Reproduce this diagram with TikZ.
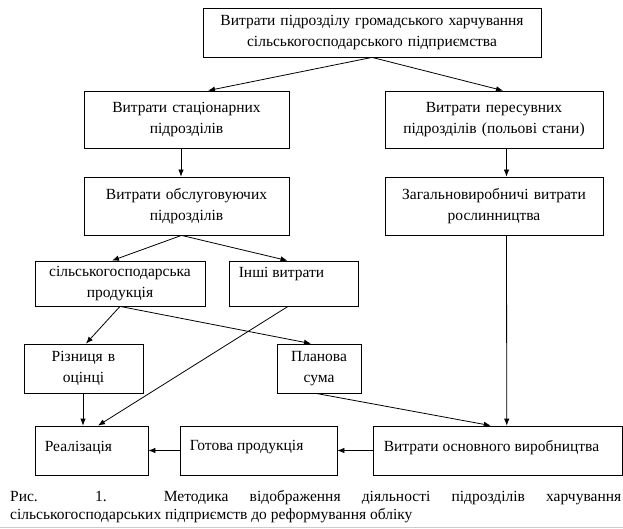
\documentclass[tikz,border=0pt]{standalone}
\usepackage{fontspec}
\setmainfont{Liberation Serif}
\usetikzlibrary{arrows.meta,calc}
\tikzset{
  box/.style={draw, line width=0.8pt, inner sep=0pt, align=center},
  txt/.style={inner sep=0pt, align=left, anchor=west},
  arr/.style={line width=0.8pt, -{Latex[length=7pt,width=5.5pt]}},
}
\begin{document}
\begin{tikzpicture}[x=1pt,y=-1pt,font=\fontsize{15.5}{21}\selectfont]
\useasboundingbox (0,0) rectangle (623,529);
% boxes
\node[box, minimum width=338, minimum height=49, text width=330] (top) at (372,32.5)
  {Витрати підрозділу громадського харчування\\сільськогосподарського підприємства};
\node[box, minimum width=205, minimum height=57, text width=200] (stat) at (186.5,119.5)
  {Витрати стаціонарних\\підрозділів};
\node[box, minimum width=218, minimum height=57, text width=214] (peres) at (494,119.5)
  {Витрати пересувних\\підрозділів (польові стани)};
\node[box, minimum width=205, minimum height=58, text width=200] (obsl) at (186.5,206)
  {Витрати обслуговуючих\\підрозділів};
\node[box, minimum width=218, minimum height=58, text width=214] (zag) at (494,206)
  {Загальновиробничі витрати\\рослинництва};
\node[box, minimum width=170, minimum height=45, text width=166] (sg) at (120,283.5)
  {сільськогосподарська\\продукція};
\node[box, minimum width=129, minimum height=45] (inshi) at (293.5,283.5) {};
\node[txt, anchor=north west] (inshit) at ([xshift=10pt,yshift=-6pt]inshi.north west) {Інші витрати};
\node[box, minimum width=119, minimum height=49, text width=115] (riz) at (83.5,368.5)
  {Різниця в\\оцінці};
\node[box, minimum width=84, minimum height=49, text width=80] (plan) at (319,368.5)
  {Планова\\сума};
\node[box, minimum width=113, minimum height=49] (real) at (91.5,450.5) {};
\node[txt] (realt) at ([xshift=10pt,yshift=3pt]real.west) {Реалізація};
\node[box, minimum width=157, minimum height=49] (got) at (258.5,450.5) {};
\node[txt] (gott) at ([xshift=10pt,yshift=3pt]got.west) {Готова продукція};
\node[box, minimum width=249.5, minimum height=49] (vos) at (497.75,450.5) {};
\node[txt] (vost) at ([xshift=11pt,yshift=3pt]vos.west) {Витрати основного виробництва};
% arrows
\draw[arr] (top.south) -- ([xshift=21.5pt]stat.north);
\draw[arr] (top.south) -- ([xshift=9pt]peres.north);
\draw[arr] ([xshift=-5.5pt]stat.south) -- ([xshift=-5.5pt]obsl.north);
\draw[arr] ([xshift=12.5pt]peres.south) -- ([xshift=12.5pt]zag.north);
\draw[arr] ([xshift=-5pt]obsl.south) -- ([xshift=-8pt]sg.north);
\draw[arr] ([xshift=-5pt]obsl.south) -- ([xshift=-6pt]inshi.north);
\draw[arr] (sg.south) -- ([xshift=2.5pt]riz.north);
\draw[arr] (sg.south) -- ([xshift=-8pt]plan.north);
\draw[arr] ([xshift=-5.5pt]inshi.south) -- ([xshift=6.5pt]real.north);
\draw[arr] ([xshift=-0.5pt]riz.south) -- ([xshift=-8.5pt]real.north);
\draw[arr] ([xshift=-3pt]plan.south) -- ([xshift=-7pt]vos.north);
\draw[arr] ([xshift=12.5pt]zag.south) -- ([xshift=9pt]vos.north);
\draw[arr] (got.west) -- (real.east);
\draw[arr] (vos.west) -- (got.east);
% caption
\node[inner sep=0pt, anchor=north west] (cap1) at (10,490)
  {\makebox[611pt][s]{Рис. 1. Методика відображення діяльності підрозділів харчування}};
\node[inner sep=0pt, anchor=north west] (cap2) at (10,508)
  {сільськогосподарських підприємств до реформування обліку};
\draw[gray!40, line width=1pt] (0,527.5) -- (623,527.5);
\end{tikzpicture}
\end{document}
